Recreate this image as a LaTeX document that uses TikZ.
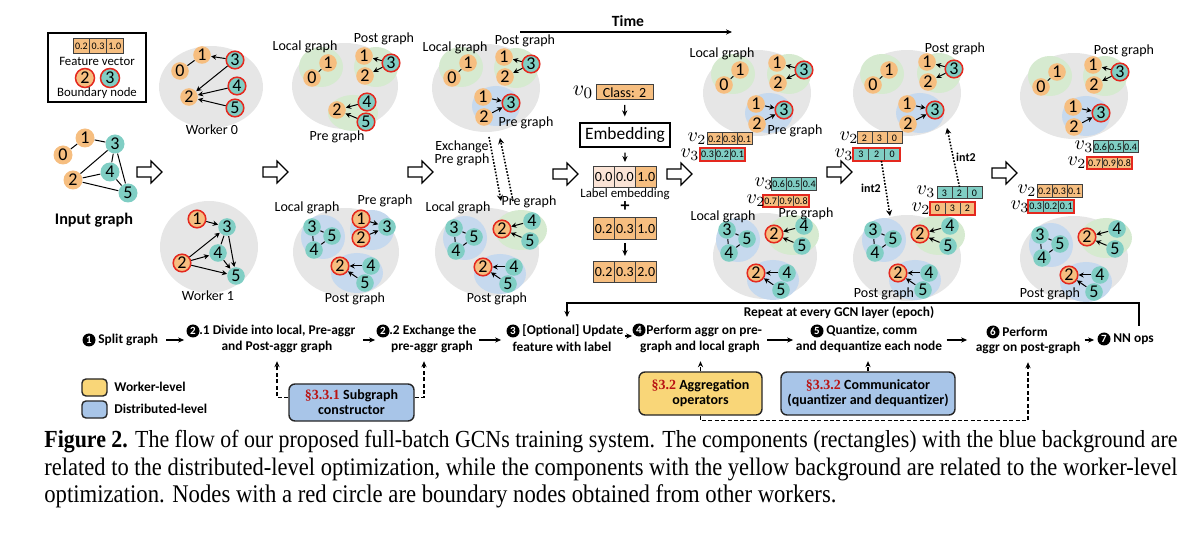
\documentclass[tikz,border=0pt]{standalone}
\usepackage{fontspec}
\setmainfont{Carlito}
\newfontfamily\capfont{Liberation Serif}
\usetikzlibrary{arrows.meta}
\definecolor{corange}{RGB}{246,190,128}
\definecolor{cteal}{RGB}{128,206,196}
\definecolor{cred}{RGB}{228,40,30}
\definecolor{cgray}{RGB}{230,230,230}
\definecolor{cgreen}{RGB}{214,234,208}
\definecolor{cblue}{RGB}{198,217,238}
\definecolor{cpink}{RGB}{251,228,214}
\definecolor{cyel}{RGB}{249,214,120}
\definecolor{cbox}{RGB}{168,197,232}
\definecolor{dred}{RGB}{185,20,20}
\pgfdeclarelayer{bgA}
\pgfdeclarelayer{bgB}
\pgfsetlayers{bgA,bgB,main}
\tikzset{
 gn/.style={circle, inner sep=0pt, minimum size=8.8pt, font=\fontsize{9}{9}\selectfont},
 on/.style={gn, fill=corange},
 tn/.style={gn, fill=cteal},
 ob/.style={gn, fill=corange, draw=cred, line width=0.75pt},
 tb/.style={gn, fill=cteal, draw=cred, line width=0.75pt},
 ed/.style={line width=0.5pt},
 ar/.style={line width=0.5pt, -{Stealth[length=2.6pt,width=2.6pt]}},
 lbl/.style={font=\fontsize{7}{7}\selectfont, inner sep=0pt},
 lbls/.style={font=\fontsize{6.4}{6.4}\selectfont, inner sep=0pt},
 vlab/.style={font=\fontsize{10}{10}\selectfont, inner sep=0pt},
 vcell/.style={draw=black!75, line width=0.5pt, inner sep=0pt, outer sep=0pt},
 vo/.style={fill=corange, font=\fontsize{5}{5}\selectfont},
 vt/.style={fill=cteal, font=\fontsize{5}{5}\selectfont},
 vol/.style={fill=corange, font=\fontsize{7}{7}\selectfont},
 flowtxt/.style={font=\bfseries\fontsize{6.7}{6.7}\selectfont, inner sep=0pt},
 stepc/.style={circle, fill=black, text=white, inner sep=0pt, minimum size=6.5pt, font=\bfseries\fontsize{5.5}{5.5}\selectfont},
 flowar/.style={line width=0.6pt, -{Stealth[length=3pt,width=2.6pt]}},
 dashar/.style={line width=0.6pt, dash pattern=on 2pt off 1.2pt, -{Stealth[length=3pt,width=2.6pt]}},
 dotar/.style={line width=0.8pt, dash pattern=on 0.8pt off 0.8pt, -{Stealth[length=3pt,width=3pt]}},
 rbox/.style={rounded corners=3pt, draw=black!85, line width=0.7pt, inner sep=0pt, align=center, font=\bfseries\fontsize{7}{7.5}\selectfont},
}
\newcommand\GrayEl[4]{\begin{pgfonlayer}{bgA}\fill[cgray] (#1,#2) ellipse [x radius=#3, y radius=#4];\end{pgfonlayer}}
\newcommand\HArrow[2]{\draw[line width=0.6pt, fill=white] (#1,{#2-5}) -- ++(14,0) -- ++(0,-6) -- ++(11,11) -- ++(-11,11) -- ++(0,-6) -- ++(-14,0) -- cycle;}
\newcommand\LocTop[3]{%
 \begin{pgfonlayer}{bgB}\fill[cgreen] ({#2-7},{#3+4}) ellipse [x radius=22, y radius=20];\end{pgfonlayer}
 \node[on] (#1n1) at (#2,#3) {1};
 \node[on] (#1n0) at ({#2-16},{#3+15}) {0};
 \draw[ed] (#1n0) -- (#1n1);}
\newcommand\PostTop[3]{%
 \begin{pgfonlayer}{bgB}\fill[cgreen] ({#2+12},{#3+11}) ellipse [x radius=22, y radius=20];\end{pgfonlayer}
 \node[on] (#1n1) at (#2,#3) {1};
 \node[on] (#1n2) at ({#2+1},{#3+20}) {2};
 \node[tb] (#1n3) at ({#2+27},{#3+7}) {3};
 \draw[ar] (#1n3) -- (#1n1);
 \draw[ar] (#1n3) -- (#1n2);}
\newcommand\PreTop[3]{%
 \begin{pgfonlayer}{bgB}\fill[cblue] ({#2+13},{#3+9}) ellipse [x radius=24, y radius=20];\end{pgfonlayer}
 \node[on] (#1n1) at (#2,#3) {1};
 \node[on] (#1n2) at ({#2+1},{#3+20}) {2};
 \node[tb] (#1n3) at ({#2+28},{#3+6}) {3};
 \draw[ar] (#1n1) -- (#1n3);
 \draw[ar] (#1n2) -- (#1n3);}
\newcommand\LocBot[3]{%
 \begin{pgfonlayer}{bgB}\fill[cblue] ({#2+11},{#3+10}) ellipse [x radius=22, y radius=22];\end{pgfonlayer}
 \node[tn] (#1n3) at (#2,#3) {3};
 \node[tn] (#1n5) at ({#2+20},{#3+9}) {5};
 \node[tn] (#1n4) at ({#2+2},{#3+23}) {4};
 \draw[ed] (#1n3) -- (#1n5);
 \draw[ed] (#1n3) -- (#1n4);
 \draw[ed] (#1n4) -- (#1n5);}
\newcommand\PostBot[3]{%
 \begin{pgfonlayer}{bgB}\fill[cblue] ({#2+17},{#3+7}) ellipse [x radius=26, y radius=20];\end{pgfonlayer}
 \node[ob] (#1n2) at (#2,#3) {2};
 \node[tn] (#1n4) at ({#2+31},{#3}) {4};
 \node[tn] (#1n5) at ({#2+25},{#3+17}) {5};
 \draw[ar] (#1n4) -- (#1n2);
 \draw[ar] (#1n5) -- (#1n2);}
\newcommand\PreBot[3]{%
 \begin{pgfonlayer}{bgB}\fill[cgreen] ({#2+19},{#3+1}) ellipse [x radius=26, y radius=20];\end{pgfonlayer}
 \node[ob] (#1n2) at (#2,#3) {2};
 \node[tn] (#1n4) at ({#2+30},{#3-8}) {4};
 \node[tn] (#1n5) at ({#2+28},{#3+12}) {5};
 \draw[ar] (#1n4) -- (#1n2);
 \draw[ar] (#1n5) -- (#1n2);}
\newcommand\FVec[9]{%
 \node[vcell, #6, minimum width={#4*0.5pt}, minimum height={#5*0.5pt}] (#1x1) at ({#2+0.5*#4},{#3+0.5*#5}) {#7};
 \node[vcell, #6, minimum width={#4*0.5pt}, minimum height={#5*0.5pt}, anchor=west] (#1x2) at (#1x1.east) {#8};
 \node[vcell, #6, minimum width={#4*0.5pt}, minimum height={#5*0.5pt}, anchor=west] (#1x3) at (#1x2.east) {#9};}
\newcommand\RedOut[1]{\draw[cred, line width=0.75pt] (#1x1.north west) rectangle (#1x3.south east);}

\begin{document}
\begin{tikzpicture}[x=0.5pt,y=-0.5pt]
\useasboundingbox (0,0) rectangle (1200,534);

% ---------- legend ----------
\node[draw, line width=0.6pt, minimum width=49pt, minimum height=34.5pt, inner sep=0pt] (legend) at (97,67.5) {};
\FVec{lg}{73}{39}{16.7}{15}{vo}{0.2}{0.3}{1.0}
\node[lbls] (lgfv) at (97,61) {Feature vector};
\node[ob, minimum size=9.5pt] (lgb2) at (85,78) {2};
\node[tb, minimum size=9.5pt] (lgb3) at (110,78) {3};
\node[lbls] (lgbn) at (97,93) {Boundary node};

% ---------- input graph ----------
\node[on, minimum size=9.5pt] (i1) at (85,138) {1};
\node[on, minimum size=9.5pt] (i0) at (63,155) {0};
\node[tn, minimum size=9.5pt] (i3) at (115,144) {3};
\node[tn, minimum size=9.5pt] (i4) at (110,172) {4};
\node[on, minimum size=9.5pt] (i2) at (73,180) {2};
\node[tn, minimum size=9.5pt] (i5) at (128,193) {5};
\draw[ed] (i0) -- (i1);
\draw[ed] (i1) -- (i3);
\draw[ed] (i2) -- (i3);
\draw[ed] (i2) -- (i4);
\draw[ed] (i2) -- (i5);
\draw[ed] (i3) -- (i4);
\draw[ed] (i3) -- (i5);
\draw[ed] (i4) -- (i5);
\node[font=\bfseries\fontsize{8.1}{8.1}\selectfont, inner sep=0pt] (inlab) at (94,220) {Input graph};

% ---------- hollow arrows ----------
\HArrow{137}{172}
\HArrow{263}{172}
\HArrow{408}{172}
\HArrow{553}{174}
\HArrow{667}{174}
\HArrow{827}{172}
\HArrow{992}{173}

% ---------- worker 0 ----------
\GrayEl{211}{87}{52}{41}
\node[on] (w0n1) at (202,55) {1};
\node[on] (w0n0) at (180,71) {0};
\node[tb] (w0n3) at (235,60) {3};
\node[tb] (w0n4) at (237,86) {4};
\node[on] (w0n2) at (189,97) {2};
\node[tb] (w0n5) at (235,108) {5};
\draw[ed] (w0n0) -- (w0n1);
\draw[ar] (w0n3) -- (w0n1);
\draw[ar] (w0n3) -- (w0n2);
\draw[ar] (w0n4) -- (w0n2);
\draw[ar] (w0n5) -- (w0n2);
\node[lbl] (w0lab) at (212,130) {Worker 0};

% ---------- worker 1 ----------
\GrayEl{209}{247}{49}{46}
\node[ob] (w1n1) at (197,219) {1};
\node[tn] (w1n3) at (227,227) {3};
\node[tn] (w1n4) at (218,253) {4};
\node[ob] (w1n2) at (182,263) {2};
\node[tn] (w1n5) at (236,276) {5};
\draw[ar] (w1n1) -- (w1n3);
\draw[ar] (w1n2) -- (w1n3);
\draw[ar] (w1n2) -- (w1n4);
\draw[ar] (w1n2) -- (w1n5);
\draw[ed] (w1n3) -- (w1n4);
\draw[ar] (w1n3) -- (w1n5);
\draw[ar] (w1n4) -- (w1n5);
\node[lbl] (w1lab) at (208,296) {Worker 1};

% ---------- column 2 ----------
\GrayEl{345}{86}{53}{43}
\LocTop{c2a}{328}{63}
\PostTop{c2b}{364}{56}
\begin{pgfonlayer}{bgB}\fill[cgreen] (353,113) ellipse [x radius=25, y radius=18];\end{pgfonlayer}
\node[on] (c2cn2) at (337,110) {2};
\node[tb] (c2cn4) at (367,102) {4};
\node[tb] (c2cn5) at (366,122) {5};
\draw[ar] (c2cn4) -- (c2cn2);
\draw[ar] (c2cn5) -- (c2cn2);

\GrayEl{346}{252}{53}{44}
\LocBot{c2d}{312}{227}
\begin{pgfonlayer}{bgB}\fill[cblue] (372,230) ellipse [x radius=22, y radius=20];\end{pgfonlayer}
\node[ob] (c2en1) at (361,219) {1};
\node[ob] (c2en2) at (361,238) {2};
\node[tn] (c2en3) at (387,227) {3};
\draw[ar] (c2en1) -- (c2en3);
\draw[ar] (c2en2) -- (c2en3);
\PostBot{c2f}{340}{266}

% ---------- column 3 ----------
\GrayEl{486}{88}{54}{44}
\LocTop{c3a}{468}{63}
\PostTop{c3b}{504}{57}
\PreTop{c3c}{483}{97}
\GrayEl{487}{252}{52}{44}
\LocBot{c3d}{454}{228}
\PreBot{c3e}{502}{229}
\PostBot{c3f}{483}{267}
\coordinate (exA) at (489,137);
\coordinate (exB) at (501,201);
\coordinate (exC) at (513,201);
\coordinate (exD) at (500,138);
\draw[dotar] (exA) -- (exB);
\draw[dotar] (exC) -- (exD);
\node[lbl, align=center, font=\fontsize{7}{6.6}\selectfont] (exlab) at (462,153.5) {Exchange\\Pre graph};

% ---------- time ----------
\node[font=\bfseries\fontsize{7.8}{7.8}\selectfont, inner sep=0pt] (time) at (628,21) {Time};
\coordinate (tA) at (520,32);
\coordinate (tB) at (732,32);
\draw[flowar] (tA) -- (tB);

% ---------- column 4: label embedding ----------
\node[font=\fontsize{11}{11}\selectfont, inner sep=0pt] (v0) at (583,92) {$v_0$};
\node[vcell, vol, minimum width=28.5pt, minimum height=7.5pt] (cls) at (624.5,92.5) {Class: 2};
\node[draw, line width=0.6pt, inner sep=0pt, minimum width=45pt, minimum height=12pt, font=\fontsize{8.7}{8.7}\selectfont] (emb) at (625,135) {Embedding};
\node[vcell, fill=cpink, font=\fontsize{7}{7}\selectfont, minimum width=10.65pt, minimum height=10.5pt] (le1) at (603.65,177.5) {0.0};
\node[vcell, fill=cpink, font=\fontsize{7}{7}\selectfont, minimum width=10.65pt, minimum height=10.5pt, anchor=west] (le2) at (le1.east) {0.0};
\node[vcell, vol, minimum width=10.65pt, minimum height=10.5pt, anchor=west] (le3) at (le2.east) {1.0};
\node[lbls] (lelab) at (625,194) {Label embedding};
\node[font=\bfseries\fontsize{9}{9}\selectfont, inner sep=0pt] (plus) at (625,207) {+};
\FVec{fa}{593}{218}{21.3}{22}{vol}{0.2}{0.3}{1.0}
\FVec{fb}{593}{262}{21.3}{21}{vol}{0.2}{0.3}{2.0}
\draw[flowar, shorten <=2.5pt, shorten >=3pt] (cls) -- (emb);
\draw[flowar, shorten <=2.5pt, shorten >=2.5pt] (emb) -- (le2);
\draw[flowar, shorten <=1.5pt, shorten >=3pt] (fax2) -- (fbx2);

% ---------- column 5 ----------
\GrayEl{757}{93}{54}{43}
\LocTop{c5a}{740}{70}
\PostTop{c5b}{777}{63}
\PreTop{c5c}{756}{104}
\GrayEl{765}{256}{52}{43}
\LocBot{c5d}{727}{230}
\PreBot{c5e}{774}{234}
\PostBot{c5f}{756}{273}
\FVec{c5p}{707}{133}{15}{12}{vo}{0.2}{0.3}{0.1}
\FVec{c5q}{700}{148}{15}{13}{vt}{0.3}{0.2}{0.1}
\RedOut{c5q}
\FVec{c5r}{771}{178}{15.3}{13}{vt}{0.6}{0.5}{0.4}
\FVec{c5s}{763}{195}{15.3}{12}{vo}{0.7}{0.9}{0.8}
\RedOut{c5s}
\node[vlab] (c5pl) at (697,139) {$v_2$};
\node[vlab] (c5ql) at (690,155) {$v_3$};
\node[vlab] (c5rl) at (764,184) {$v_3$};
\node[vlab] (c5sl) at (756,201) {$v_2$};

% ---------- column 6 ----------
\GrayEl{907}{93}{54}{43}
\LocTop{c6a}{889}{70}
\PostTop{c6b}{927}{62}
\PreTop{c6c}{907}{104}
\GrayEl{907}{258}{54}{43}
\LocBot{c6d}{873}{230}
\PreBot{c6e}{920}{234}
\PostBot{c6f}{898}{273}
\FVec{c6p}{857}{132}{15}{12}{vo}{2}{3}{0}
\FVec{c6q}{853}{148}{15.7}{13}{vt}{3}{2}{0}
\RedOut{c6q}
\FVec{c6r}{937}{187}{15}{12}{vt}{3}{2}{0}
\FVec{c6s}{930}{202}{15}{13}{vo}{0}{3}{2}
\RedOut{c6s}
\node[vlab] (c6pl) at (849,138) {$v_2$};
\node[vlab] (c6ql) at (844,155) {$v_3$};
\node[vlab] (c6rl) at (926,192) {$v_3$};
\node[vlab] (c6sl) at (921,209) {$v_2$};
\coordinate (i2e) at (890,216);
\coordinate (i2f) at (947,128);
\draw[dotar] ([xshift=-1.5pt]c6qx2.south east) -- (i2e);
\draw[dotar] (c6rx2.north) -- (i2f);
\node[font=\bfseries\fontsize{6}{6}\selectfont, inner sep=0pt] (int2a) at (871,188) {int2};
\node[font=\bfseries\fontsize{6}{6}\selectfont, inner sep=0pt] (int2b) at (966,157) {int2};

% ---------- column 7 ----------
\GrayEl{1074}{96}{54}{43}
\LocTop{c7a}{1057}{72}
\PostTop{c7b}{1093}{65}
\PreTop{c7c}{1073}{107}
\GrayEl{1074}{258}{54}{42}
\LocBot{c7d}{1040}{235}
\PreBot{c7e}{1087}{237}
\PostBot{c7f}{1069}{275}
\FVec{c7p}{1093}{141}{15}{12}{vt}{0.6}{0.5}{0.4}
\FVec{c7q}{1087}{157}{15}{12}{vo}{0.7}{0.9}{0.8}
\RedOut{c7q}
\FVec{c7r}{1037}{185}{15}{13}{vo}{0.2}{0.3}{0.1}
\FVec{c7s}{1028}{200}{15.3}{13}{vt}{0.3}{0.2}{0.1}
\RedOut{c7s}
\node[vlab] (c7pl) at (1084,147) {$v_3$};
\node[vlab] (c7ql) at (1077,163) {$v_2$};
\node[vlab] (c7rl) at (1027,191) {$v_2$};
\node[vlab] (c7sl) at (1020,207) {$v_3$};

% ---------- graph labels ----------
\node[lbl] (L2a) at (305,47) {Local graph};
\node[lbl] (L2b) at (384,39) {Post graph};
\node[lbl] (L2c) at (337,137) {Pre graph};
\node[lbl] (L2d) at (307,208) {Local graph};
\node[lbl] (L2e) at (385,201) {Pre graph};
\node[lbl] (L2f) at (355,299) {Post graph};
\node[lbl] (L3a) at (455,48) {Local graph};
\node[lbl] (L3b) at (525,41) {Post graph};
\node[lbl] (L3c) at (526,123) {Pre graph};
\node[lbl] (L3d) at (458,208) {Local graph};
\node[lbl] (L3e) at (529,202) {Pre graph};
\node[lbl] (L3f) at (497,299) {Post graph};
\node[lbl] (L5a) at (722,54) {Local graph};
\node[lbl] (L5c) at (795,131) {Pre graph};
\node[lbl] (L5d) at (723,217) {Local graph};
\node[lbl] (L5e) at (806,214) {Pre graph};
\node[lbl] (L6b) at (955,49) {Post graph};
\node[lbl] (L6f) at (884,294) {Post graph};
\node[lbl] (L7b) at (1124,51) {Post graph};
\node[lbl] (L7f) at (1050,294) {Post graph};

% ---------- flow row ----------
\coordinate (rowy) at (0,340);
\coordinate (rowb) at (0,336);
\node[stepc] (s1c) at (89,340) {1};
\node[flowtxt, anchor=west] (s1t) at (98,340) {Split graph};
\node[stepc] (s21c) at (193,331) {2};
\node[flowtxt, anchor=west] (s21a) at (199,331) {.1 Divide into local, Pre-aggr};
\node[flowtxt] (s21b) at (277,347) {and Post-aggr graph};
\node[stepc] (s22c) at (383,331) {2};
\node[flowtxt, anchor=west] (s22a) at (389,331) {.2 Exchange the};
\node[flowtxt] (s22b) at (432,347) {pre-aggr graph};
\node[stepc] (s3c) at (513,331) {3};
\node[flowtxt, anchor=west] (s3a) at (522,331) {[Optional] Update};
\node[flowtxt] (s3b) at (562,347) {feature with label};
\node[stepc] (s4c) at (639,330) {4};
\node[flowtxt, anchor=west] (s4a) at (646,331) {Perform aggr on pre-};
\node[flowtxt] (s4b) at (700,347) {graph and local graph};
\node[stepc] (s5c) at (817,331) {5};
\node[flowtxt, anchor=west] (s5a) at (826,331) {Quantize, comm};
\node[flowtxt] (s5b) at (869,347) {and dequantize each node};
\node[stepc] (s6c) at (993,332) {6};
\node[flowtxt, anchor=west] (s6a) at (1002,332) {Perform};
\node[flowtxt] (s6b) at (1028,348) {aggr on post-graph};
\node[stepc] (s7c) at (1104,339) {7};
\node[flowtxt, anchor=west] (s7t) at (1113,339) {NN ops};
\node[flowtxt] (rep) at (839,313) {Repeat at every GCN layer (epoch)};

\draw[flowar, shorten <=4pt, shorten >=1pt] (s1t.east) -- (s1t.east -| s21c.west);
\draw[flowar, shorten <=3.5pt, shorten >=0.5pt] (s21a.east |- rowy) -- (s22c.west |- rowy);
\draw[flowar, shorten <=1pt, shorten >=2.5pt] (s22a.east |- rowy) -- (s3c.west |- rowy);
\draw[flowar, shorten <=0.5pt, shorten >=0pt] (s3a.east |- rowb) -- (s4c.west |- rowb);
\draw[flowar, shorten <=2.5pt, shorten >=8.5pt] (s4a.east |- rowy) -- (s5c.west |- rowy);
\draw[flowar, shorten <=2pt, shorten >=9.5pt] (s5b.east |- rowy) -- (s6c.west |- rowy);
\draw[flowar, shorten <=2pt, shorten >=1.5pt] (s6b.east |- rowy) -- (s7c.west |- rowy);
\coordinate (fb1) at (1139,326);
\coordinate (fb2) at (567,317);
\draw[flowar] (fb1) -- ++(0,-23) -| (fb2);

% ---------- legend bottom ----------
\node[rbox, rounded corners=2pt, fill=cyel, minimum width=12.5pt, minimum height=8.5pt] (wl) at (94.5,387.5) {};
\node[flowtxt, anchor=west] (wlt) at (114,387) {Worker-level};
\node[rbox, rounded corners=2pt, fill=cbox, minimum width=12.5pt, minimum height=8.5pt] (dl) at (94.5,409.5) {};
\node[flowtxt, anchor=west] (dlt) at (114,409) {Distributed-level};

% ---------- component boxes ----------
\node[rbox, fill=cbox, minimum width=62.5pt, minimum height=18.5pt] (sg) at (351.5,402.5) {{\capfont\color{dred}§3.3.1} Subgraph\\constructor};
\node[rbox, fill=cyel, minimum width=61.5pt, minimum height=21.5pt] (ag) at (700.5,393.5) {{\capfont\color{dred}§3.2} Aggregation\\operators};
\node[rbox, fill=cbox, minimum width=87pt, minimum height=21.5pt] (cm) at (868,393.5) {{\capfont\color{dred}§3.3.2} Communicator\\(quantizer and dequantizer)};
\draw[dashar, shorten >=4pt] ([yshift=2.5pt]sg.west) -| (s21b.south);
\draw[dashar, shorten >=4pt] ([yshift=2.5pt]sg.east) -| ([xshift=-4pt]s22b.south);
\draw[dashar, shorten >=4pt] (ag.north) -- (ag.north |- s4b.south);
\draw[dashar, shorten >=4pt] (cm.north) -- (cm.north |- s5b.south);
\draw[dashar, shorten >=4pt] (ag.south) -- ++(0,5) -| (s6b.south);

% ---------- caption ----------
\node[anchor=west, inner sep=0pt] (cap1) at (44,442) {\scalebox{1}[1.12]{\resizebox{566.5pt}{!}{\capfont\fontsize{10}{12}\selectfont\textbf{Figure 2.} The flow of our proposed full-batch GCNs training system. The components (rectangles) with the blue background are}}};
\node[anchor=west, inner sep=0pt] (cap2) at (44,469) {\scalebox{1}[1.12]{\resizebox{566.5pt}{!}{\capfont\fontsize{10}{12}\selectfont related to the distributed-level optimization, while the components with the yellow background are related to the worker-level}}};
\node[anchor=west, inner sep=0pt] (cap3) at (44,496) {\scalebox{1}[1.12]{\resizebox{396pt}{!}{\capfont\fontsize{10}{12}\selectfont optimization. Nodes with a red circle are boundary nodes obtained from other workers.}}};
\end{tikzpicture}
\end{document}
